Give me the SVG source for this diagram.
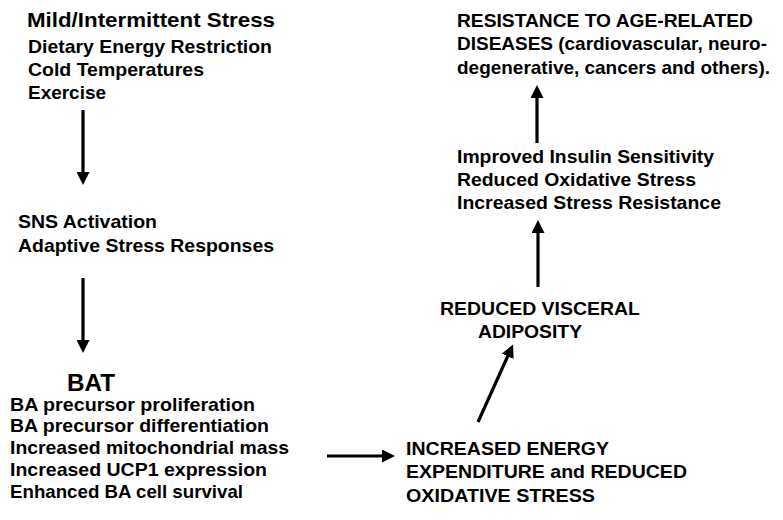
<svg xmlns="http://www.w3.org/2000/svg" width="783" height="520" viewBox="0 0 783 520">
<style>
text{font-family:"Liberation Sans",Arial,sans-serif;font-weight:bold;font-size:19px;fill:#000}
.t{font-size:21px}
.big{font-size:23px}
.s{font-size:18.5px}
.c{stroke:#000;stroke-width:3.2;fill:none}
</style>
<defs>
<marker id="ah" markerUnits="userSpaceOnUse" viewBox="0 0 13 13" markerWidth="13" markerHeight="13" refX="2" refY="6.5" orient="auto">
<path d="M0,0 L13,6.5 L0,13 z" fill="#000"/>
</marker>
</defs>
<rect width="783" height="520" fill="#fff"/>
<g id="stress">
<text class="t" x="27" y="27" textLength="248" lengthAdjust="spacingAndGlyphs">Mild/Intermittent Stress</text>
<text x="28" y="53" textLength="244" lengthAdjust="spacingAndGlyphs">Dietary Energy Restriction</text>
<text x="28" y="76" textLength="176" lengthAdjust="spacingAndGlyphs">Cold Temperatures</text>
<text x="28" y="99" textLength="78" lengthAdjust="spacingAndGlyphs">Exercise</text>
</g>
<g id="sns">
<text x="18" y="228" textLength="139" lengthAdjust="spacingAndGlyphs">SNS Activation</text>
<text x="18" y="252" textLength="256" lengthAdjust="spacingAndGlyphs">Adaptive Stress Responses</text>
</g>
<g id="bat">
<text class="big" x="67" y="391" textLength="48" lengthAdjust="spacingAndGlyphs">BAT</text>
<text class="s" x="10" y="411" textLength="245" lengthAdjust="spacingAndGlyphs">BA precursor proliferation</text>
<text class="s" x="10" y="432" textLength="259" lengthAdjust="spacingAndGlyphs">BA precursor differentiation</text>
<text class="s" x="10" y="454" textLength="279" lengthAdjust="spacingAndGlyphs">Increased mitochondrial mass</text>
<text class="s" x="10" y="476" textLength="257" lengthAdjust="spacingAndGlyphs">Increased UCP1 expression</text>
<text class="s" x="10" y="498" textLength="233" lengthAdjust="spacingAndGlyphs">Enhanced BA cell survival</text>
</g>
<g id="energy">
<text x="406" y="455" textLength="203" lengthAdjust="spacingAndGlyphs">INCREASED ENERGY</text>
<text x="406" y="478" textLength="281" lengthAdjust="spacingAndGlyphs">EXPENDITURE and REDUCED</text>
<text x="406" y="502" textLength="189" lengthAdjust="spacingAndGlyphs">OXIDATIVE STRESS</text>
</g>
<g id="adiposity">
<text x="440" y="315" textLength="200" lengthAdjust="spacingAndGlyphs">REDUCED VISCERAL</text>
<text x="478" y="338" textLength="104" lengthAdjust="spacingAndGlyphs">ADIPOSITY</text>
</g>
<g id="insulin">
<text x="457" y="163" textLength="257" lengthAdjust="spacingAndGlyphs">Improved Insulin Sensitivity</text>
<text x="457" y="186" textLength="239" lengthAdjust="spacingAndGlyphs">Reduced Oxidative Stress</text>
<text x="457" y="209" textLength="264" lengthAdjust="spacingAndGlyphs">Increased Stress Resistance</text>
</g>
<g id="resistance">
<text x="457" y="27" textLength="296" lengthAdjust="spacingAndGlyphs">RESISTANCE TO AGE-RELATED</text>
<text x="457" y="50" textLength="310" lengthAdjust="spacingAndGlyphs">DISEASES (cardiovascular, neuro-</text>
<text x="457" y="74" textLength="313" lengthAdjust="spacingAndGlyphs">degenerative, cancers and others).</text>
</g>
<g id="connectors">
<line class="c" x1="83" y1="110" x2="83" y2="174" marker-end="url(#ah)"/>
<line class="c" x1="83" y1="278" x2="83" y2="342" marker-end="url(#ah)"/>
<line class="c" x1="327" y1="456" x2="384" y2="456" marker-end="url(#ah)"/>
<line class="c" x1="478" y1="422" x2="508.5" y2="354.5" marker-end="url(#ah)"/>
<line class="c" x1="538" y1="287" x2="538" y2="231" marker-end="url(#ah)"/>
<line class="c" x1="537" y1="143" x2="537" y2="96" marker-end="url(#ah)"/>
</g>
</svg>
